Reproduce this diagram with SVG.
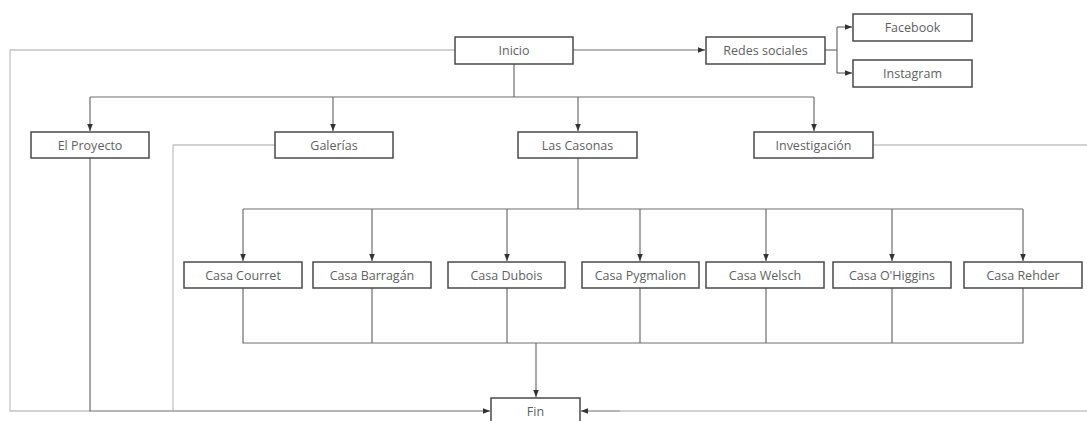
<svg xmlns="http://www.w3.org/2000/svg" width="1087" height="421" viewBox="0 0 1087 421">
<style>
.box{fill:#fff;stroke:#4a4a4a;stroke-width:1.5}
.lbl{font-family:"Open Sans","DejaVu Sans",sans-serif;font-size:12.5px;fill:#5f5f5f;text-anchor:middle;dominant-baseline:central}
.c{fill:none;stroke:#6e6e6e;stroke-width:1.2}
.cl{fill:none;stroke:#c4c4c4;stroke-width:1.3}
</style>
<defs>
<marker id="a" viewBox="0 0 8 8" refX="8" refY="4" markerWidth="7" markerHeight="7" markerUnits="userSpaceOnUse" orient="auto">
<path d="M0,0.8 L8,4 L0,7.2 Z" fill="#333"/>
</marker>
</defs>
<rect width="1087" height="421" fill="#fff"/>
<g id="connectors">
<path class="cl" d="M455,50 H10 V411 H90"/>
<path class="c" d="M573,50 H705" marker-end="url(#a)"/>
<path class="c" d="M825,50 H837"/>
<path class="c" d="M837,27 V73"/>
<path class="c" d="M837,27 H852" marker-end="url(#a)"/>
<path class="c" d="M837,73 H852" marker-end="url(#a)"/>
<path class="c" d="M514,64 V97"/>
<path class="c" d="M90,97 H814"/>
<path class="c" d="M90,97 V131" marker-end="url(#a)"/>
<path class="c" d="M333,97 V131" marker-end="url(#a)"/>
<path class="c" d="M578,97 V131" marker-end="url(#a)"/>
<path class="c" d="M814,97 V131" marker-end="url(#a)"/>
<path class="c" d="M90,158 V411 H173"/>
<path class="cl" d="M275,145 H173 V411"/>
<path class="c" d="M173,411 H490" marker-end="url(#a)"/>
<path class="cl" d="M873,145 H1095 V411 H620"/>
<path class="c" d="M620,411 H581" marker-end="url(#a)"/>
<path class="c" d="M578,158 V209"/>
<path class="c" d="M243,209 H1023"/>
<path class="c" d="M243,209 V261" marker-end="url(#a)"/>
<path class="c" d="M372,209 V261" marker-end="url(#a)"/>
<path class="c" d="M507,209 V261" marker-end="url(#a)"/>
<path class="c" d="M640,209 V261" marker-end="url(#a)"/>
<path class="c" d="M766,209 V261" marker-end="url(#a)"/>
<path class="c" d="M892,209 V261" marker-end="url(#a)"/>
<path class="c" d="M1023,209 V261" marker-end="url(#a)"/>
<path class="c" d="M243,288 V343 H1023 V288"/>
<path class="c" d="M372,288 V343"/>
<path class="c" d="M507,288 V343"/>
<path class="c" d="M640,288 V343"/>
<path class="c" d="M766,288 V343"/>
<path class="c" d="M892,288 V343"/>
<path class="c" d="M536,343 V397" marker-end="url(#a)"/>
</g>
<g id="inicio"><rect class="box" x="455" y="37" width="118" height="27"/><text class="lbl" x="514" y="50.5">Inicio</text></g>
<g id="redes"><rect class="box" x="706" y="37" width="119" height="27"/><text class="lbl" x="765.5" y="50.5">Redes sociales</text></g>
<g id="facebook"><rect class="box" x="853" y="14" width="119" height="27"/><text class="lbl" x="912.5" y="27.5">Facebook</text></g>
<g id="instagram"><rect class="box" x="853" y="60" width="119" height="27"/><text class="lbl" x="912.5" y="73.5">Instagram</text></g>
<g id="proyecto"><rect class="box" x="31" y="132" width="118" height="26"/><text class="lbl" x="90" y="145">El Proyecto</text></g>
<g id="galerias"><rect class="box" x="275" y="132" width="118" height="26"/><text class="lbl" x="334" y="145">Galerías</text></g>
<g id="casonas"><rect class="box" x="518" y="132" width="119" height="26"/><text class="lbl" x="577.5" y="145">Las Casonas</text></g>
<g id="investigacion"><rect class="box" x="754" y="132" width="119" height="26"/><text class="lbl" x="813.5" y="145">Investigación</text></g>
<g id="courret"><rect class="box" x="184" y="262" width="118" height="26"/><text class="lbl" x="243" y="275">Casa Courret</text></g>
<g id="barragan"><rect class="box" x="313" y="262" width="118" height="26"/><text class="lbl" x="372" y="275">Casa Barragán</text></g>
<g id="dubois"><rect class="box" x="448" y="262" width="117" height="26"/><text class="lbl" x="506.5" y="275">Casa Dubois</text></g>
<g id="pygmalion"><rect class="box" x="582" y="262" width="117" height="26"/><text class="lbl" x="640.5" y="275">Casa Pygmalion</text></g>
<g id="welsch"><rect class="box" x="706" y="262" width="118" height="26"/><text class="lbl" x="765" y="275">Casa Welsch</text></g>
<g id="ohiggins"><rect class="box" x="833" y="262" width="118" height="26"/><text class="lbl" x="892" y="275">Casa O'Higgins</text></g>
<g id="rehder"><rect class="box" x="964" y="262" width="118" height="26"/><text class="lbl" x="1023" y="275">Casa Rehder</text></g>
<g id="fin"><rect class="box" x="491" y="398" width="89" height="28"/><text class="lbl" x="535.5" y="411.5">Fin</text></g>
</svg>
